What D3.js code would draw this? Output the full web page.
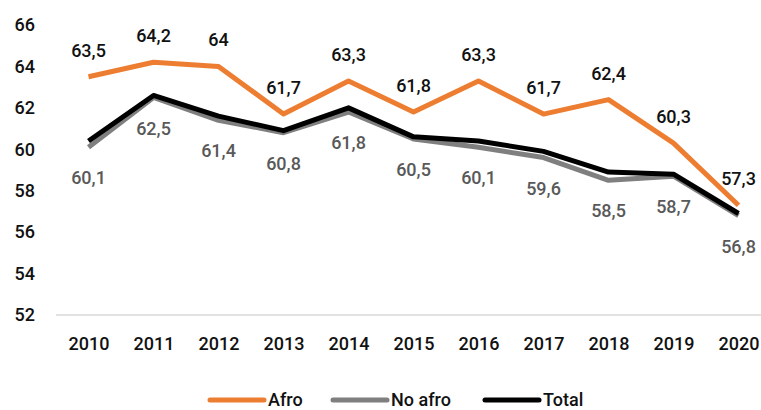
<!DOCTYPE html>
<html>
<head>
<meta charset="utf-8">
<script src="https://cdn.jsdelivr.net/npm/d3@7"></script>
<style>
  body { margin: 0; background: #fff; }
  text { font-family: Roboto, sans-serif; }
</style>
</head>
<body>
<svg id="chart"></svg>
<script>
// data
const years = ['2010', '2011', '2012', '2013', '2014', '2015', '2016', '2017', '2018', '2019', '2020']
const afro = [63.5, 64.2, 64, 61.7, 63.3, 61.8, 63.3, 61.7, 62.4, 60.3, 57.3]
const noAfro = [60.1, 62.5, 61.4, 60.8, 61.8, 60.5, 60.1, 59.6, 58.5, 58.7, 56.8]
const total = [60.4, 62.6, 61.6, 60.9, 62.0, 60.6, 60.4, 59.9, 58.9, 58.8, 56.9] // estimated, no labels
const yTicks = [52, 54, 56, 58, 60, 62, 64, 66]

const width = 761, height = 410
const margin = {top: 25, right: -10, bottom: 95, left: 56}

const svg = d3.select('#chart')
    .attr('width', width)
    .attr('height', height)

const x = d3.scalePoint()
    .domain(years)
    .range([margin.left, width - margin.right])
    .padding(0.5)
const y = d3.scaleLinear()
    .domain([52, 66])
    .range([height - margin.bottom, margin.top])

// y axis labels (no line)
const yAxis = d3.axisLeft(y).tickValues(yTicks).tickSize(0).tickPadding(21)
svg.append('g')
    .attr('transform', `translate(${margin.left},0)`)
    .call(yAxis)
    .call(g => g.select('.domain').remove())
    .selectAll('text')
        .attr('font-family', 'Roboto, sans-serif')
        .attr('font-size', 18)
        .attr('font-weight', 500)
        .attr('fill', '#111')

// baseline
svg.append('line')
    .attr('x1', margin.left).attr('x2', width)
    .attr('y1', y(52)).attr('y2', y(52))
    .attr('stroke', '#d9d9d9').attr('stroke-width', 1.5)

const xAxis = d3.axisBottom(x).tickSize(0).tickPadding(22)
svg.append('g')
    .attr('transform', `translate(0,${y(52)})`)
    .call(xAxis)
    .call(g => g.select('.domain').remove())
    .selectAll('text')
        .attr('font-family', 'Roboto, sans-serif')
        .attr('font-size', 18)
        .attr('font-weight', 500)
        .attr('fill', '#111')

const series = [
    {name: 'No afro', values: noAfro, color: '#7f7f7f'},
    {name: 'Total', values: total, color: '#000000'},
    {name: 'Afro', values: afro, color: '#ed7d31'}
]

const line = d3.line()
    .x((d, i) => x(years[i]))
    .y(d => y(d))

svg.selectAll('.series')
    .data(series)
    .join('path')
        .attr('class', 'series')
        .attr('d', d => line(d.values))
        .attr('fill', 'none')
        .attr('stroke', d => d.color)
        .attr('stroke-width', 5)
        .attr('stroke-linejoin', 'round')

const fmt = v => String(v).replace('.', ',')

// afro labels above
svg.selectAll('.lab-afro')
    .data(afro)
    .join('text')
        .attr('class', 'lab-afro')
        .attr('x', (d, i) => x(years[i]))
        .attr('y', d => y(d) - 20)
        .attr('text-anchor', 'middle')
        .attr('font-size', 18)
        .attr('font-weight', 500)
        .attr('fill', '#111')
        .text(fmt)

// no afro labels below
svg.selectAll('.lab-noafro')
    .data(noAfro)
    .join('text')
        .attr('class', 'lab-noafro')
        .attr('x', (d, i) => x(years[i]))
        .attr('y', d => y(d) + 37)
        .attr('text-anchor', 'middle')
        .attr('font-size', 18)
        .attr('font-weight', 500)
        .attr('fill', '#595959')
        .text(fmt)

// legend
const legendItems = [
    {name: 'Afro', color: '#ed7d31', x: 210},
    {name: 'No afro', color: '#7f7f7f', x: 333},
    {name: 'Total', color: '#000000', x: 485}
]
const lg = svg.selectAll('.legend')
    .data(legendItems)
    .join('g')
        .attr('class', 'legend')
        .attr('transform', d => `translate(${d.x},400)`)
lg.append('line')
    .attr('x1', 0).attr('x2', 54)
    .attr('stroke', d => d.color)
    .attr('stroke-width', 5)
    .attr('stroke-linecap', 'round')
lg.append('text')
    .attr('x', 58)
    .attr('y', 6)
    .attr('font-size', 18)
    .attr('font-weight', 500)
    .attr('fill', '#111')
    .text(d => d.name)
</script>
</body>
</html>
